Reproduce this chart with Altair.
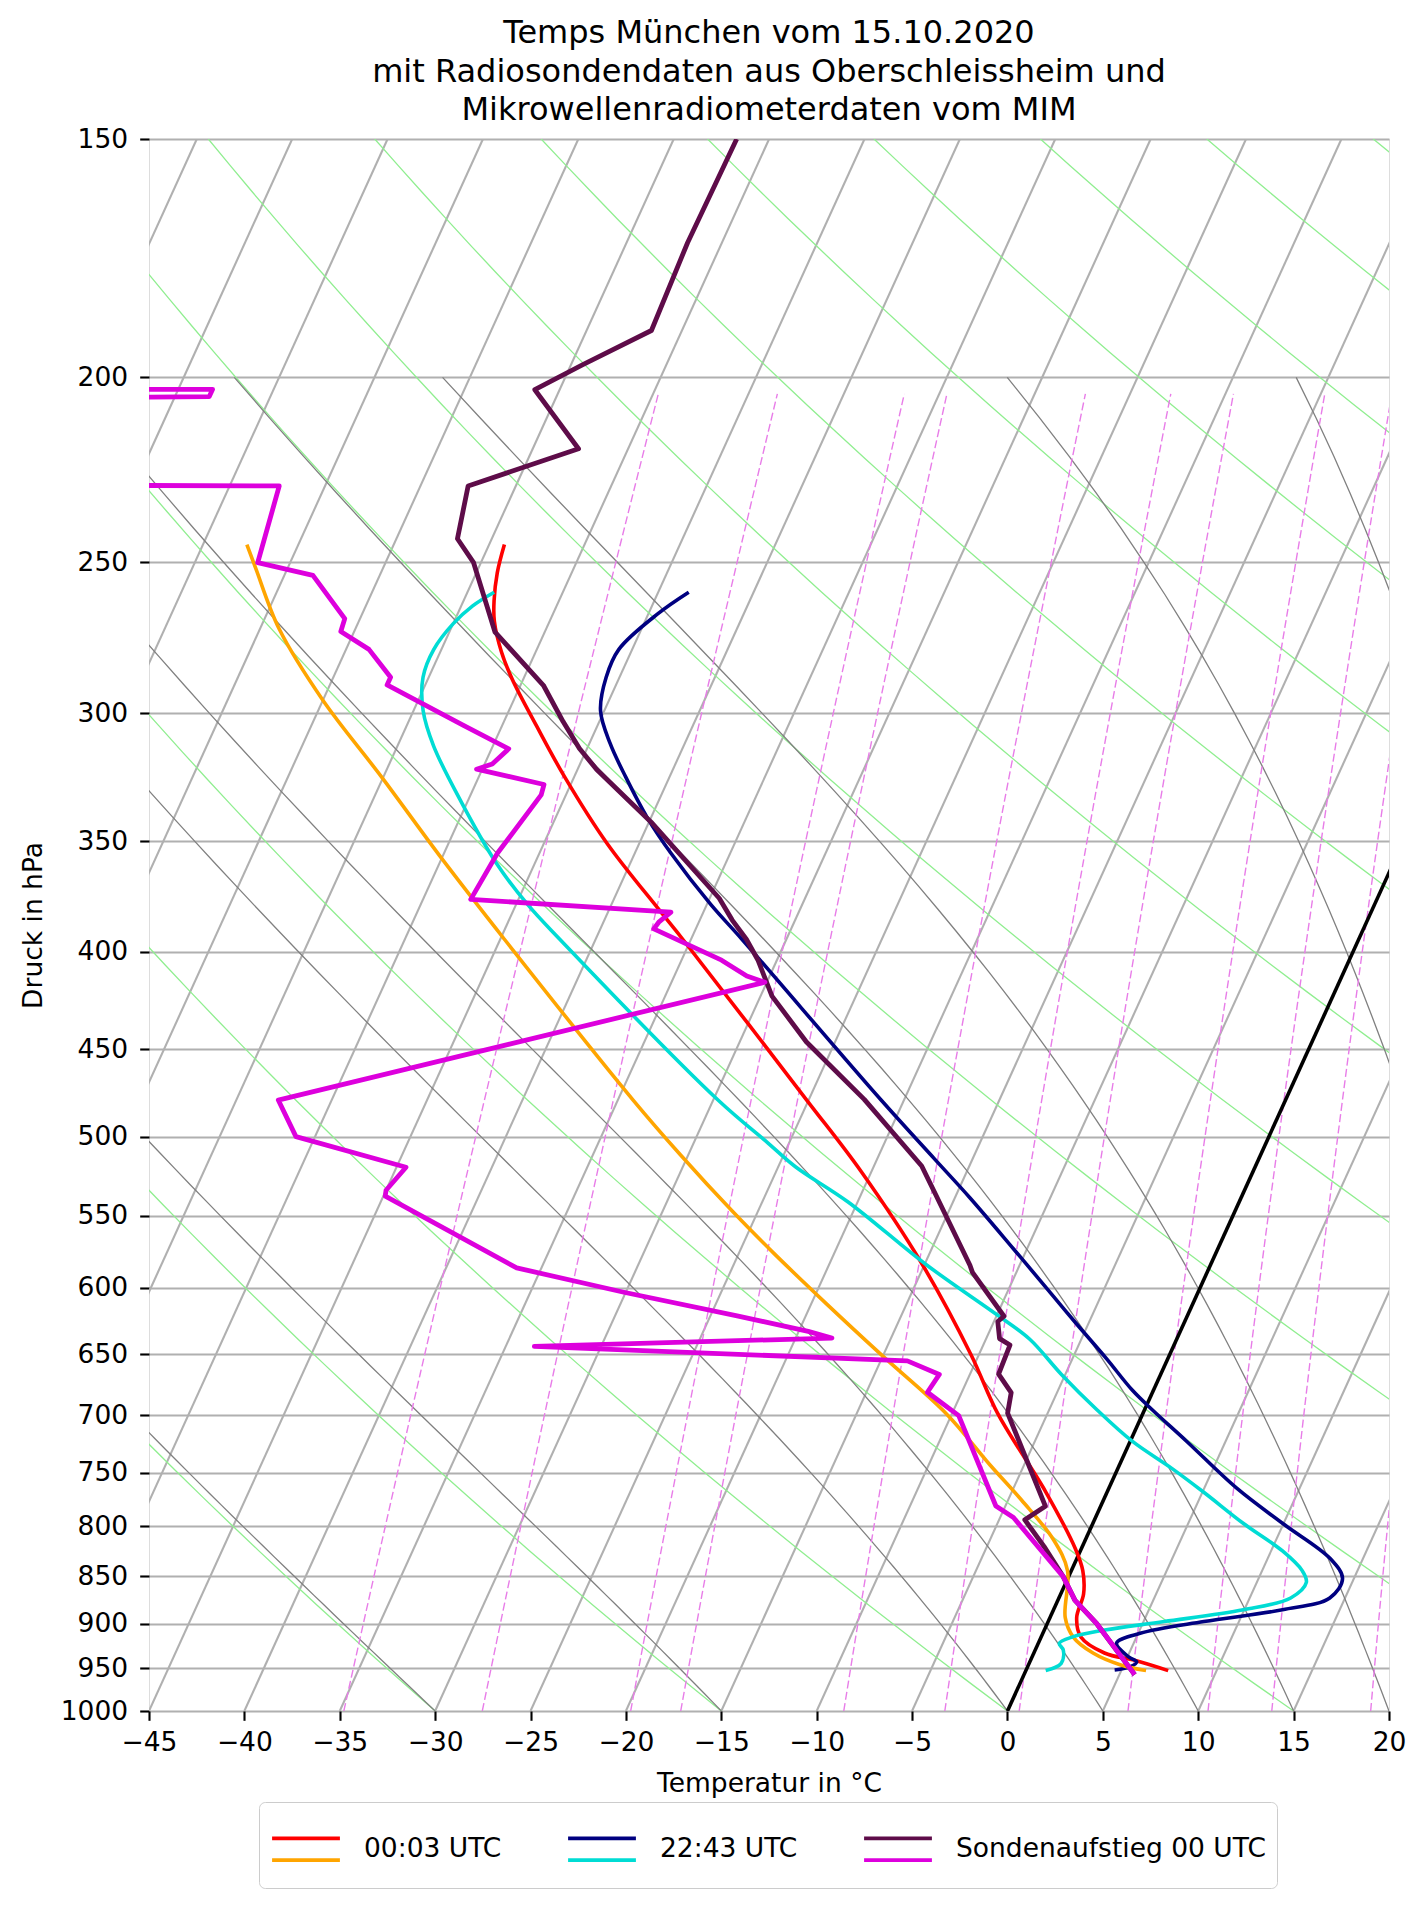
import numpy as np
import pandas as pd
import altair as alt

FONT = "DejaVu Sans"
SKEW = 19.77  # degC shift per ln(1000/p)

# ---------------- profile data (hPa, degC) ----------------
snd_t_p = [150, 170, 189, 197, 203, 218, 228, 243, 250, 272, 290, 303, 313, 321, 342,
           375, 385, 394, 404, 422, 446, 478, 518, 536, 584, 589, 621, 625, 638, 643,
           666, 681, 698, 781, 794, 820, 850, 875, 900, 957]
snd_t = [-51.7, -51.8, -51.6, -54.4, -56.3, -52.6, -57.5, -56.8, -55.4, -52.6, -48.8, -46.9,
         -45.4, -44.0, -39.9, -34.5, -33.3, -32.1, -31.0, -29.4, -26.5, -22.1, -17.5, -16.1,
         -12.6, -12.3, -9.6, -9.8, -9.3, -8.6, -8.5, -7.4, -7.1, -2.9, -3.65, -2.0, -0.3,
         0.9, 2.6, 5.8]

snd_td_p = [190, 202.9, 202.9, 204.7, 205.2, 227.5, 228, 250.1, 254, 267.6, 271.8, 277.7,
            287.2, 289.9, 304.5, 313.1, 318.9, 320.9, 326.9, 331, 355.2, 375.5, 381.3, 386,
            389.1, 404.1, 411.9, 415, 478.4, 500, 518.8, 533.4, 537.2, 585.8, 603.3, 620.7,
            632.5, 637.6, 644, 655.4, 666.2, 680.7, 700.2, 780.8, 791.8, 850, 875, 900, 957]
snd_td = [-95, -85, -73.2, -73.2, -88, -95, -67.4, -66.7, -63.5, -60.8, -60.7, -58.8,
          -57.0, -57.0, -52.0, -49.1, -49.6, -50.3, -46.4, -46.3, -47.2, -47.5, -36.7, -37.1,
          -37.2, -32.9, -31.2, -30.1, -52.8, -51.0, -44.5, -45.0, -44.9, -36.3, -30.1, -23.6,
          -19.5, -18.1, -33.5, -13.6, -11.6, -11.8, -9.6, -5.5, -4.3, -0.3, 0.9, 2.6, 5.8]

mwr1_t_p = [244.7, 253.2, 261.9, 268.4, 278.5, 288.1, 304.5, 323.9, 350.9, 380.1, 393.9,
            478.4, 520.9, 583.6, 650.7, 698.5, 768, 822.4, 844.2, 868.4, 893.4, 914.9,
            932.4, 941.2, 952.4]
mwr1_t = [-54.2, -53.9, -53.4, -52.9, -51.8, -50.55, -48.2, -45.5, -41.7, -37.4, -35.45,
          -25.1, -20.6, -15.1, -10.4, -7.6, -3.2, -0.3, 0.6, 1.2, 1.4, 2.1, 3.7, 5.56, 7.46]

mwr1_td_p = [244.7, 251.6, 270.9, 295.3, 323.9, 357.4, 393.9, 478.4, 511.2, 547.5, 575.3,
             611.8, 650.7, 698.5, 742.9, 775.2, 812.8, 844.2, 893.4, 914.9, 932.4, 945.7, 952.4]
mwr1_td = [-67.7, -66.7, -64.0, -60.0, -55.1, -50.0, -44.8, -34.2, -30.4, -26.3, -23.2,
           -19.2, -15.1, -10.3, -6.8, -4.3, -1.7, -0.2, 0.8, 1.7, 3.1, 4.8, 6.3]

mwr2_t_p = [259.2, 266, 277.7, 287.2, 299, 311.2, 323.9, 340.2, 355.2, 377.8, 393.9, 478.4,
            513.6, 538.4, 572.6, 606.1, 626.5, 653.8, 679.1, 695.2, 722.1, 764.2, 797.5,
            832.2, 852.1, 872.5, 885, 897.7, 910.5, 921.5, 936.8, 942.3, 947.9, 951.7]
mwr2_t = [-43.4, -44.5, -45.7, -45.7, -45.2, -43.9, -42.3, -40.2, -38.1, -34.8, -32.35, -21.2,
          -17.0, -14.2, -10.7, -7.5, -5.64, -3.2, -1.1, 0.4, 2.95, 6.7, 9.96, 13.3, 14.4, 14.2,
          12.0, 8.16, 5.1, 4.1, 5.06, 5.6, 5.39, 4.64]

mwr2_td_p = [259.2, 263.5, 269.3, 277.7, 287.2, 299, 312.1, 334, 359.6, 377.8, 393.9, 478.4,
             503.9, 518.5, 541, 583.6, 620.7, 638.5, 666.2, 695.2, 722.1, 746.4, 768, 797.5,
             824.4, 844.2, 856.3, 872.5, 885, 897.7, 906.9, 914.2, 921.5, 929, 944.1, 952.4]
mwr2_td = [-53.6, -54.4, -55.0, -55.4, -55.3, -54.5, -53.1, -50.3, -47.0, -44.4, -41.9, -29.75,
           -26.1, -24.1, -20.5, -14.9, -9.9, -7.7, -5.2, -2.5, 0.1, 2.85, 5.07, 7.9, 10.6, 12.1,
           12.6, 12.15, 9.95, 6.08, 3.17, 1.68, 1.1, 1.47, 1.68, 1.04]

series_names = ["00:03 UTC", "22:43 UTC", "Sondenaufstieg 00 UTC"]
t_colors = ["#ff0000", "#000080", "#5e0c49"]
td_colors = ["#ffa500", "#00dcd4", "#dd00dd"]
mwr_width = 3.6
snd_width = 4.8

# ---------------- diagram construction parameters ----------------
isotherm_t = list(range(-80, 25, 5))
dry_t0 = list(range(-30, 166, 15))
moist_t0 = [-30, -15, 0, 5, 10, 15, 20, 30, 35]
mix_w = [0.2, 0.4, 0.8, 1, 2, 3, 4, 6, 8, 10, 14]  # g/kg
p_ticks = [150, 200, 250, 300, 350, 400, 450, 500, 550, 600, 650, 700, 750, 800, 850,
           900, 950, 1000]
t_ticks = list(range(-45, 21, 5))

title_lines = ["Temps München vom 15.10.2020",
               "mit Radiosondendaten aus Oberschleissheim und",
               "Mikrowellenradiometerdaten vom MIM"]

# ---------------- build background lines ----------------
def line_frame(ps, ts, gid):
    return pd.DataFrame({"p": ps, "T": ts, "id": gid, "i": np.arange(len(ps))})

iso = pd.concat([line_frame([1000.0, 150.0], [t, t], f"iso{t}") for t in isotherm_t])

pdry = np.geomspace(1000, 150, 60)
dry = pd.concat([line_frame(pdry, (t0 + 273.15) * (pdry / 1000.0) ** 0.2857 - 273.15, f"d{t0}")
                 for t0 in dry_t0])

Rd, Cp, Lv, EPS = 287.04749, 1004.6662, 2.50084e6, 0.621957


def _dtdp(T, p):
    es = 6.112 * np.exp(17.67 * (T - 273.15) / (T - 29.65))
    rs = EPS * es / (p - es)
    return (Rd * T + Lv * rs) / (Cp + Lv * Lv * rs * EPS / (Rd * T * T)) / p


def moist_curve(t0, p_end=200.0, dp=-1.0):
    T, p = t0 + 273.15, 1000.0
    ps, ts = [p], [t0]
    n = int(round((1000.0 - p_end) / abs(dp)))
    for k in range(n):
        k1 = _dtdp(T, p)
        k2 = _dtdp(T + dp / 2 * k1, p + dp / 2)
        k3 = _dtdp(T + dp / 2 * k2, p + dp / 2)
        k4 = _dtdp(T + dp * k3, p + dp)
        T += dp / 6 * (k1 + 2 * k2 + 2 * k3 + k4)
        p += dp
        if (k + 1) % 10 == 0:
            ps.append(p)
            ts.append(T - 273.15)
    return ps, ts


moist = pd.concat([line_frame(*moist_curve(t0), f"m{t0}") for t0 in moist_t0])

pmix = np.geomspace(1000, 204, 40)
mix_frames = []
for w in mix_w:
    wk = w / 1000.0
    e = pmix * wk / (EPS + wk)
    lv = np.log(e / 6.112)
    mix_frames.append(line_frame(pmix, 243.5 * lv / (17.67 - lv), f"w{w}"))
mix = pd.concat(mix_frames)

zero = line_frame([1000.0, 150.0], [0.0, 0.0], "zero")

# ---------------- profiles ----------------
TD_TAG = "|td"
td_names = [n + TD_TAG for n in series_names]


def prof(ps, ts, name):
    return pd.DataFrame({"p": ps, "T": ts, "series": name, "i": np.arange(len(ps))})

mwr_t = pd.concat([prof(mwr1_t_p, mwr1_t, series_names[0]),
                   prof(mwr2_t_p, mwr2_t, series_names[1])])
snd_t_df = prof(snd_t_p, snd_t, series_names[2])
mwr_td = pd.concat([prof(mwr1_td_p, mwr1_td, td_names[0]),
                    prof(mwr2_td_p, mwr2_td, td_names[1])])
snd_td_df = prof(snd_td_p, snd_td, td_names[2])

# ---------------- scales / axes ----------------
x_scale = alt.Scale(domain=[-45, 20], nice=False, zero=False)
y_scale = alt.Scale(type="log", domain=[150, 1000], reverse=True, nice=False)

x_axis = alt.Axis(values=t_ticks, title="Temperatur in \u00b0C", grid=False, domain=False,
                  tickSize=9.3, tickWidth=2.1, tickColor="black", labelFont=FONT,
                  labelFontSize=26.5, labelColor="black", labelPadding=9, labelFlush=False,
                  labelOverlap=False, titleFont=FONT, titleFontSize=26.5,
                  titleFontWeight="normal", titleColor="black", titlePadding=15)
y_axis = alt.Axis(values=p_ticks, format="d", title="Druck in hPa", grid=True,
                  gridColor="#b0b0b0", gridWidth=2.1, gridOpacity=1, domain=False,
                  tickSize=9.3, tickWidth=2.1, tickColor="black", labelFont=FONT,
                  labelFontSize=26.5, labelColor="black", labelPadding=12, labelFlush=False,
                  labelOverlap=False, titleFont=FONT, titleFontSize=26.5,
                  titleFontWeight="normal", titleColor="black", titlePadding=13)

skew_expr = f"datum.T + {SKEW} * log(1000 / datum.p)"
X = alt.X("X:Q", scale=x_scale, axis=x_axis)
Y = alt.Y("p:Q", scale=y_scale, axis=y_axis)


def bg_layer(df, **mark):
    return alt.Chart(df).mark_line(clip=True, **mark).transform_calculate(X=skew_expr).encode(
        x=X, y=Y, detail="id:N", order=alt.Order("i:Q"))


l_iso = bg_layer(iso, color="#b0b0b0", strokeWidth=2.1)
l_dry = bg_layer(dry, color="#90ee90", strokeWidth=1.3)
l_moist = bg_layer(moist, color="#808080", strokeWidth=1.3)
l_mix = bg_layer(mix, color="#e87de8", strokeWidth=1.4, strokeDash=[8, 3.4])
l_zero = bg_layer(zero, color="black", strokeWidth=3.6)

# two stacked legends: upper line (temperature colour) and lower line (dew point colour)
EXT = "M0,-0.6L0,-0.6M0,0.6L0,0.6"
legend_common = dict(orient="none", legendX=110, legendY=1663, direction="horizontal",
                     columns=3, title=None, labelFont=FONT, labelFontSize=26.5,
                     labelColor="black", labelLimit=0, symbolSize=4600,
                     symbolStrokeWidth=3.6, labelOffset=22, columnPadding=58, padding=11,
                     rowPadding=0, symbolFillColor="transparent",
                     labelExpr="split(datum.label, '|')[0]")
leg_top = alt.Legend(symbolType="M-1,-0.32L1,-0.32" + EXT, strokeColor="#cccccc",
                     cornerRadius=6, **legend_common)
leg_bot = alt.Legend(symbolType="M-1,0.32L1,0.32" + EXT, labelOpacity=0, **legend_common)

color_t = alt.Color("series:N", scale=alt.Scale(domain=series_names, range=t_colors),
                    legend=leg_top)
stroke_td = alt.Stroke("series:N", scale=alt.Scale(domain=td_names, range=td_colors),
                       legend=leg_bot)


def prof_layer(df, width, interp, channel):
    enc = dict(x=X, y=Y, order=alt.Order("i:Q"))
    if channel == "color":
        enc["color"] = color_t
    else:
        enc["stroke"] = stroke_td
    return alt.Chart(df).mark_line(clip=True, strokeJoin="round", strokeWidth=width,
                                   interpolate=interp).transform_calculate(
        X=skew_expr).encode(**enc)


l_mwr_t = prof_layer(mwr_t, mwr_width, "catmull-rom", "color")
l_mwr_td = prof_layer(mwr_td, mwr_width, "catmull-rom", "stroke")
l_snd_t = prof_layer(snd_t_df, snd_width, "linear", "color")
l_snd_td = prof_layer(snd_td_df, snd_width, "linear", "stroke")

chart = alt.layer(l_iso, l_dry, l_moist, l_mix, l_zero,
                  l_mwr_t, l_mwr_td, l_snd_t, l_snd_td).properties(
    width=1240, height=1572,
    padding={"left": 141, "top": 131, "right": 30, "bottom": 188},
    autosize=alt.AutoSizeParams(type="none"),
    title=alt.TitleParams(text=title_lines, font=FONT, fontSize=32, fontWeight="normal",
                          color="black", anchor="middle", frame="group", offset=-33,
                          lineHeight=38.4, baseline="bottom"),
).configure_view(stroke="black", strokeWidth=2.1).configure(background="white")

chart.save("out.html", embed_options={"renderer": "svg", "actions": False})
